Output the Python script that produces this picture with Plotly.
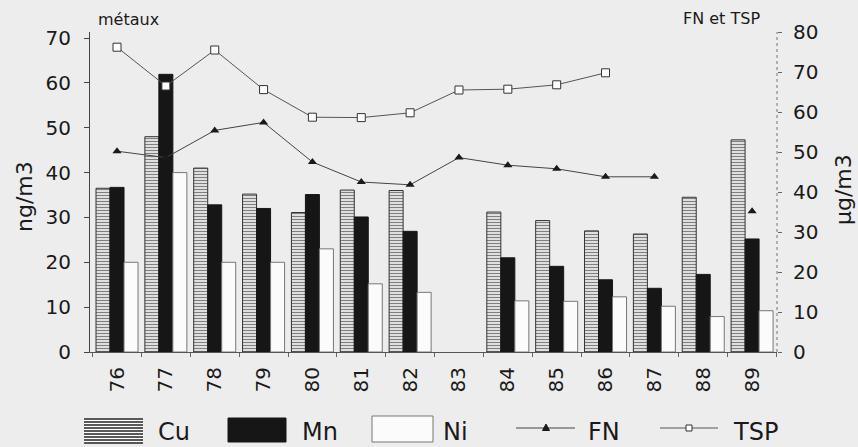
import plotly.graph_objects as go

years = ["76", "77", "78", "79", "80", "81", "82", "83", "84", "85", "86", "87", "88", "89"]
cu = [36.5, 48.0, 41.0, 35.2, 31.1, 36.1, 36.0, None, 31.2, 29.3, 27.0, 26.3, 34.5, 47.3]
mn = [36.7, 61.9, 32.8, 32.0, 35.1, 30.1, 26.9, None, 21.0, 19.1, 16.1, 14.2, 17.3, 25.2]
ni = [20.0, 40.0, 20.0, 20.0, 23.0, 15.2, 13.3, None, 11.4, 11.3, 12.3, 10.2, 7.9, 9.2]
fn = [50.2, 48.6, 55.4, 57.4, 47.5, 42.5, 41.8, 48.6, 46.7, 45.8, 43.8, 43.8, None, 35.2]
tsp = [76.2, 66.5, 75.5, 65.6, 58.7, 58.6, 59.8, 65.5, 65.7, 66.8, 69.8, None, None, None]

left_ticks = [0, 10, 20, 30, 40, 50, 60, 70]
right_ticks = [0, 10, 20, 30, 40, 50, 60, 70, 80]

W, H = 858, 447
L, R, T, B = 90, 81, 32, 95
PW, PH = W - L - R, H - T - B
BG = "#ededed"
FONT = "DejaVu Sans"
INK = "#1a1a1a"


def px(x):
    return (x - L) / PW


def py(y):
    return (H - B - y) / PH


fig = go.Figure()
fig.add_trace(go.Bar(
    x=years, y=cu, name="Cu", yaxis="y",
    marker=dict(color="white", line=dict(color="#333", width=1),
                pattern=dict(shape="-", fgcolor="#000", bgcolor="white", size=3, solidity=0.5)),
))
fig.add_trace(go.Bar(
    x=years, y=mn, name="Mn", yaxis="y",
    marker=dict(color="#161616", line=dict(color="#161616", width=1)),
))
fig.add_trace(go.Bar(
    x=years, y=ni, name="Ni", yaxis="y",
    marker=dict(color="#fbfbfb", line=dict(color="#777", width=1)),
))
fig.add_trace(go.Scatter(
    x=years, y=fn, name="FN", yaxis="y2", mode="lines+markers", connectgaps=False,
    line=dict(color="#444", width=1),
    marker=dict(symbol="triangle-up", size=8, color=INK),
))
fig.add_trace(go.Scatter(
    x=years, y=tsp, name="TSP", yaxis="y2", mode="lines+markers", connectgaps=False,
    line=dict(color="#555", width=1),
    marker=dict(symbol="square", size=8, color="white", line=dict(color="#333", width=1)),
))

shapes = []
# dashed right axis
shapes.append(dict(type="line", xref="paper", yref="paper", x0=1, x1=1, y0=0, y1=1,
                   line=dict(color="#777", width=1, dash="dot")))
# legend: Cu patch
shapes.append(dict(type="rect", xref="paper", yref="paper", x0=px(84), x1=px(143), y0=py(418), y1=py(443),
                   fillcolor="white", line=dict(width=0)))
for k in range(9):
    yy = 419 + k * 3
    shapes.append(dict(type="line", xref="paper", yref="paper", x0=px(84), x1=px(143), y0=py(yy), y1=py(yy),
                       line=dict(color="#222", width=1.3)))
# Mn patch
shapes.append(dict(type="rect", xref="paper", yref="paper", x0=px(228), x1=px(286), y0=py(418), y1=py(442),
                   fillcolor="#161616", line=dict(color="#161616", width=1)))
# Ni patch
shapes.append(dict(type="rect", xref="paper", yref="paper", x0=px(372), x1=px(433), y0=py(416), y1=py(442),
                   fillcolor="#fbfbfb", line=dict(color="#777", width=1)))
# FN legend line + triangle
shapes.append(dict(type="line", xref="paper", yref="paper", x0=px(516), x1=px(575), y0=py(428), y1=py(428),
                   line=dict(color="#444", width=1)))
shapes.append(dict(type="path", xref="paper", yref="paper",
                   path=f"M{px(546)},{py(424)} L{px(542.5)},{py(430.5)} L{px(549.5)},{py(430.5)} Z",
                   fillcolor=INK, line=dict(color=INK, width=1)))
# TSP legend line + square
shapes.append(dict(type="line", xref="paper", yref="paper", x0=px(660), x1=px(718), y0=py(428), y1=py(428),
                   line=dict(color="#555", width=1)))
shapes.append(dict(type="rect", xref="paper", yref="paper", x0=px(686), x1=px(692), y0=py(425), y1=py(431),
                   fillcolor="white", line=dict(color="#333", width=1)))

annotations = []


def ann(text, x, y, size, anchor="center", angle=0):
    annotations.append(dict(text=text, xref="paper", yref="paper", x=px(x), y=py(y),
                            xanchor=anchor, yanchor="middle", showarrow=False, textangle=angle,
                            font=dict(family=FONT, size=size, color=INK)))


ann("métaux", 128, 20, 16)
ann("FN et TSP", 721, 18, 16)
ann("ng/m3", 24, 197, 22, angle=-90)
ann("µg/m3", 843, 190, 22, angle=-90)
ann("Cu", 156, 432, 24, anchor="left")
ann("Mn", 300, 432, 24, anchor="left")
ann("Ni", 441, 432, 24, anchor="left")
ann("FN", 586, 432, 24, anchor="left")
ann("TSP", 731, 432, 24, anchor="left")

fig.update_layout(
    width=W, height=H,
    margin=dict(l=L, r=R, t=T, b=B),
    paper_bgcolor=BG, plot_bgcolor=BG,
    barmode="group", bargap=0.14, bargroupgap=0,
    showlegend=False,
    font=dict(family=FONT, size=20, color=INK),
    xaxis=dict(type="category", range=[-0.553, 13.51], tickangle=-90,
               showline=True, linecolor="#555", linewidth=1,
               ticks="outside", ticklen=4, tickcolor="#666", tickson="boundaries",
               ticklabelstandoff=6, showgrid=False, zeroline=False,
               tickfont=dict(family=FONT, size=20, color=INK)),
    yaxis=dict(range=[0, 71.34], tickvals=left_ticks, side="left",
               showline=True, linecolor="#444", linewidth=1,
               ticks="outside", ticklen=5, tickcolor="#444", ticklabelstandoff=9,
               showgrid=False, zeroline=False,
               tickfont=dict(family=FONT, size=20, color=INK)),
    yaxis2=dict(range=[0, 80], tickvals=right_ticks, side="right", overlaying="y",
                showline=False, ticks="outside", ticklen=4, tickcolor="#666", ticklabelstandoff=7,
                showgrid=False, zeroline=False,
                tickfont=dict(family=FONT, size=20, color=INK)),
    shapes=shapes,
    annotations=annotations,
)

fig.write_html(
    "out.html",
    config={"displayModeBar": False},
    post_script="document.body.style.margin='0';document.body.style.padding='0';"
                "document.body.style.background='" + BG + "';document.body.style.overflow='hidden';",
)
